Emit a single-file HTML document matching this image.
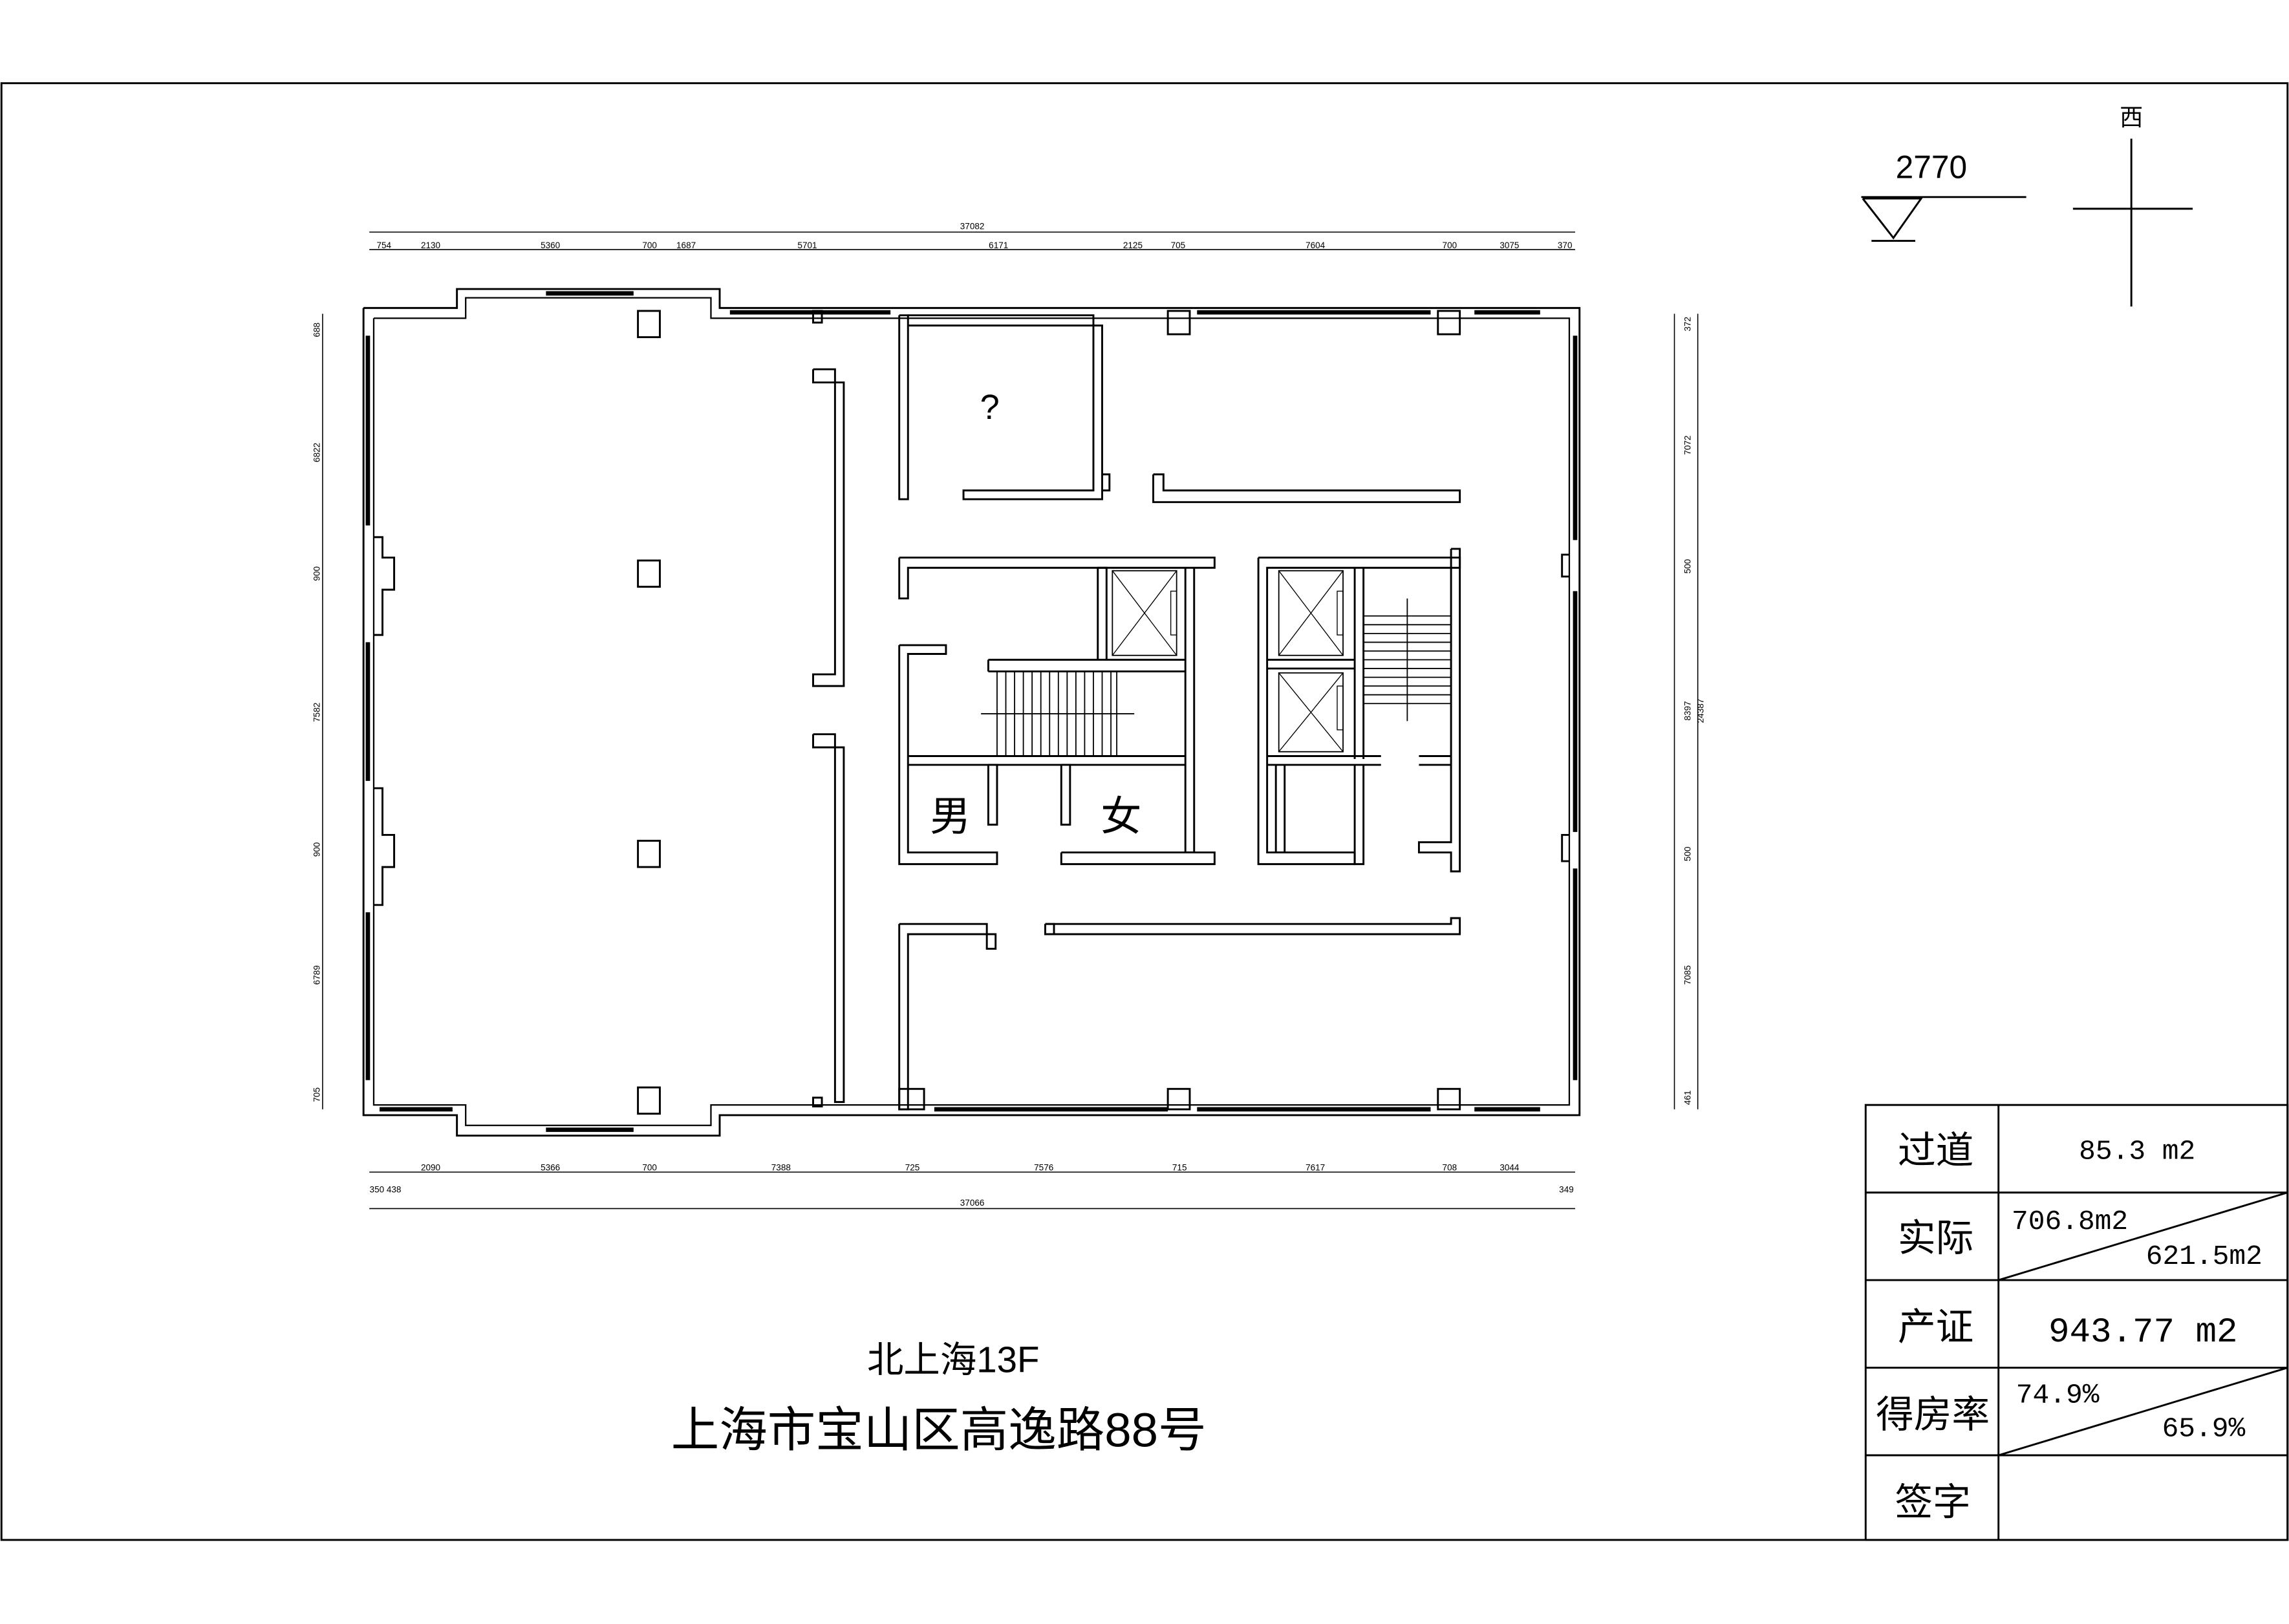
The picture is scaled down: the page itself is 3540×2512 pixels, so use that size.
<!DOCTYPE html>
<html><head><meta charset="utf-8"><style>
html,body{margin:0;padding:0;background:#fff;}
svg{display:block;}
text{font-family:"Liberation Sans","Noto Sans CJK SC",sans-serif;fill:#000;}
text.m{font-family:"Liberation Mono",monospace;}
</style></head><body>
<svg width="3540" height="2512" viewBox="0 0 1568 1112.6" preserveAspectRatio="none" xmlns="http://www.w3.org/2000/svg">
<rect x="0" y="0" width="1568" height="1112.6" fill="#fff"/>
<g fill="none" stroke="#000" stroke-width="1.3">
<rect x="1" y="57" width="1566" height="998"/>
<rect x="1278" y="757" width="289" height="298"/>
<line x1="1369" y1="757" x2="1369" y2="1055"/>
<line x1="1278" y1="817" x2="1567" y2="817"/>
<line x1="1278" y1="877" x2="1567" y2="877"/>
<line x1="1278" y1="937" x2="1567" y2="937"/>
<line x1="1278" y1="997" x2="1567" y2="997"/>
<line x1="1369" y1="877" x2="1567" y2="817"/>
<line x1="1369" y1="997" x2="1567" y2="937"/>
<line x1="1275" y1="135" x2="1388" y2="135"/>
<polyline points="1276,136 1316,136 1297,163 1276,136"/>
<line x1="1282" y1="165" x2="1312" y2="165"/>
<line x1="1460" y1="95" x2="1460" y2="210"/>
<line x1="1420" y1="143" x2="1502" y2="143"/>
<polyline points="249,211 313,211 313,198 493,198 493,211 1082,211 1082,764 493,764 493,778 313,778 313,764 249,764 249,211"/>
<polyline points="256,218 319,218 319,204 487,204 487,218 1075,218 1075,757 487,757 487,771 319,771 319,757 256,757 256,218" stroke-width="1"/>
<g stroke-width="3">
<line x1="374" y1="201" x2="434" y2="201"/><line x1="374" y1="774" x2="434" y2="774"/>
<line x1="500" y1="214" x2="610" y2="214"/><line x1="820" y1="214" x2="980" y2="214"/>
<line x1="1010" y1="214" x2="1055" y2="214"/><line x1="640" y1="760" x2="800" y2="760"/>
<line x1="820" y1="760" x2="980" y2="760"/><line x1="1010" y1="760" x2="1055" y2="760"/>
<line x1="252" y1="230" x2="252" y2="360"/><line x1="252" y1="440" x2="252" y2="535"/>
<line x1="252" y1="625" x2="252" y2="740"/><line x1="1079" y1="230" x2="1079" y2="370"/>
<line x1="1079" y1="405" x2="1079" y2="570"/><line x1="1079" y1="595" x2="1079" y2="740"/>
<line x1="260" y1="760" x2="310" y2="760"/>
</g>
<polyline points="256,368 262,368 262,382 270,382 270,404 262,404 262,435 256,435"/>
<polyline points="256,540 262,540 262,572 270,572 270,594 262,594 262,620 256,620"/>
<polyline points="1075,380 1070,380 1070,395 1075,395"/>
<polyline points="1075,572 1070,572 1070,590 1075,590"/>
<rect x="437" y="213" width="15" height="18"/><rect x="437" y="384" width="15" height="18"/>
<rect x="437" y="576" width="15" height="18"/><rect x="437" y="745" width="15" height="18"/>
<rect x="985" y="213" width="15" height="16"/><rect x="800" y="213" width="15" height="16"/>
<rect x="985" y="746" width="15" height="14"/><rect x="800" y="746" width="15" height="14"/>
<rect x="616" y="746" width="17" height="14"/>
<rect x="557" y="213" width="6" height="8"/><rect x="557" y="752" width="6" height="6"/>
<polyline points="557,253 572,253 572,262 578,262 578,470 572,470 557,470 557,462 572,462 572,262 557,262 557,253"/>
<polyline points="557,503 572,503 572,512 578,512 578,755 572,755 572,512 557,512 557,503"/>
<polyline points="616,216 622,216 622,342 616,342 616,216"/>
<polyline points="622,216 749,216 749,336 660,336 660,342 755,342 755,223 622,223"/>
<polyline points="755,325 760,325 760,336 755,336"/>
<polyline points="790,325 797,325 797,336 1000,336 1000,344 790,344 790,325"/>
<polyline points="616,382 832,382 832,389 622,389 622,410 616,410 616,382"/>
<polyline points="616,442 648,442 648,448 622,448 622,584 683,584 683,592 616,592 616,442"/>
<polyline points="727,584 832,584 832,592 727,592 727,584"/>
<line x1="622" y1="518" x2="812" y2="518"/><line x1="622" y1="524" x2="812" y2="524"/>
<polyline points="677,524 683,524 683,565 677,565 677,524"/>
<polyline points="727,524 733,524 733,565 727,565 727,524"/>
<polyline points="812,389 812,584 818,584 818,389"/>
<polyline points="752,389 758,389 758,452 752,452 752,389"/>
<line x1="677" y1="452" x2="812" y2="452"/><line x1="677" y1="460" x2="812" y2="460"/>
<line x1="677" y1="452" x2="677" y2="460"/>
<rect x="762" y="391" width="44" height="58" stroke-width="0.8"/>
<line x1="762" y1="391" x2="806" y2="449" stroke-width="0.6"/><line x1="806" y1="391" x2="762" y2="449" stroke-width="0.6"/>
<rect x="802" y="405" width="4" height="30" stroke-width="0.6"/>
<g stroke-width="0.8">
<line x1="683" y1="460" x2="683" y2="518"/><line x1="765" y1="460" x2="765" y2="518"/>
<line x1="689" y1="460" x2="689" y2="518"/><line x1="695" y1="460" x2="695" y2="518"/>
<line x1="701" y1="460" x2="701" y2="518"/><line x1="707" y1="460" x2="707" y2="518"/>
<line x1="713" y1="460" x2="713" y2="518"/><line x1="719" y1="460" x2="719" y2="518"/>
<line x1="725" y1="460" x2="725" y2="518"/><line x1="731" y1="460" x2="731" y2="518"/>
<line x1="737" y1="460" x2="737" y2="518"/><line x1="743" y1="460" x2="743" y2="518"/>
<line x1="749" y1="460" x2="749" y2="518"/><line x1="755" y1="460" x2="755" y2="518"/>
<line x1="761" y1="460" x2="761" y2="518"/>
<line x1="672" y1="489" x2="777" y2="489"/>
</g>
<polyline points="862,382 1000,382 1000,389 868,389 868,584 928,584 928,592 862,592 862,382"/>
<polyline points="994,376 1000,376 1000,597 994,597 994,584 972,584 972,577 994,577 994,376"/>
<line x1="928" y1="389" x2="928" y2="520"/><line x1="934" y1="389" x2="934" y2="520"/>
<line x1="868" y1="452" x2="928" y2="452"/><line x1="868" y1="458" x2="928" y2="458"/>
<line x1="868" y1="518" x2="946" y2="518"/><line x1="868" y1="524" x2="946" y2="524"/>
<line x1="972" y1="518" x2="994" y2="518"/><line x1="972" y1="524" x2="994" y2="524"/>
<polyline points="874,524 874,584 880,584 880,524"/>
<polyline points="928,524 928,592 934,592 934,524"/>
<rect x="876" y="391" width="44" height="58" stroke-width="0.8"/>
<line x1="876" y1="391" x2="920" y2="449" stroke-width="0.6"/><line x1="920" y1="391" x2="876" y2="449" stroke-width="0.6"/>
<rect x="916" y="405" width="4" height="30" stroke-width="0.6"/>
<rect x="876" y="461" width="44" height="54" stroke-width="0.8"/>
<line x1="876" y1="461" x2="920" y2="515" stroke-width="0.6"/><line x1="920" y1="461" x2="876" y2="515" stroke-width="0.6"/>
<rect x="916" y="470" width="4" height="30" stroke-width="0.6"/>
<g stroke-width="0.8">
<line x1="934" y1="422" x2="994" y2="422"/><line x1="934" y1="428" x2="994" y2="428"/>
<line x1="934" y1="434" x2="994" y2="434"/><line x1="934" y1="440" x2="994" y2="440"/>
<line x1="934" y1="446" x2="994" y2="446"/><line x1="934" y1="452" x2="994" y2="452"/>
<line x1="934" y1="458" x2="994" y2="458"/><line x1="934" y1="464" x2="994" y2="464"/>
<line x1="934" y1="470" x2="994" y2="470"/><line x1="934" y1="476" x2="994" y2="476"/>
<line x1="934" y1="482" x2="994" y2="482"/><line x1="964" y1="410" x2="964" y2="494"/>
</g>
<polyline points="616,633 676,633 676,650 682,650 682,640 670,640 622,640 622,760 616,760 616,633"/>
<polyline points="716,633 716,640 1000,640 1000,629 994,629 994,633 716,633"/>
<polyline points="716,633 722,633 722,640"/>
<g stroke-width="0.7">
<line x1="253" y1="159" x2="1079" y2="159"/><line x1="253" y1="171" x2="1079" y2="171"/>
<line x1="253" y1="803" x2="1079" y2="803"/><line x1="253" y1="828" x2="1079" y2="828"/>
<line x1="221" y1="215" x2="221" y2="760"/><line x1="1147" y1="215" x2="1147" y2="760"/>
<line x1="1163" y1="215" x2="1163" y2="760"/>
</g>
</g>
<g font-size="6">
<text x="666" y="157" text-anchor="middle">37082</text>
<text x="263" y="170" text-anchor="middle">754</text><text x="295" y="170" text-anchor="middle">2130</text>
<text x="377" y="170" text-anchor="middle">5360</text><text x="445" y="170" text-anchor="middle">700</text>
<text x="470" y="170" text-anchor="middle">1687</text><text x="553" y="170" text-anchor="middle">5701</text>
<text x="684" y="170" text-anchor="middle">6171</text><text x="776" y="170" text-anchor="middle">2125</text>
<text x="807" y="170" text-anchor="middle">705</text><text x="901" y="170" text-anchor="middle">7604</text>
<text x="993" y="170" text-anchor="middle">700</text><text x="1034" y="170" text-anchor="middle">3075</text>
<text x="1072" y="170" text-anchor="middle">370</text>
<text x="295" y="802" text-anchor="middle">2090</text><text x="377" y="802" text-anchor="middle">5366</text>
<text x="445" y="802" text-anchor="middle">700</text><text x="535" y="802" text-anchor="middle">7388</text>
<text x="625" y="802" text-anchor="middle">725</text><text x="715" y="802" text-anchor="middle">7576</text>
<text x="808" y="802" text-anchor="middle">715</text><text x="901" y="802" text-anchor="middle">7617</text>
<text x="993" y="802" text-anchor="middle">708</text><text x="1034" y="802" text-anchor="middle">3044</text>
<text x="264" y="817" text-anchor="middle">350 438</text><text x="1073" y="817" text-anchor="middle">349</text>
<text x="666" y="826" text-anchor="middle">37066</text>
</g>
<g font-size="6">
<text transform="translate(219,226) rotate(-90)" text-anchor="middle">688</text>
<text transform="translate(219,310) rotate(-90)" text-anchor="middle">6822</text>
<text transform="translate(219,393) rotate(-90)" text-anchor="middle">900</text>
<text transform="translate(219,488) rotate(-90)" text-anchor="middle">7582</text>
<text transform="translate(219,582) rotate(-90)" text-anchor="middle">900</text>
<text transform="translate(219,668) rotate(-90)" text-anchor="middle">6789</text>
<text transform="translate(219,750) rotate(-90)" text-anchor="middle">705</text>
<text transform="translate(1158,222) rotate(-90)" text-anchor="middle">372</text>
<text transform="translate(1158,305) rotate(-90)" text-anchor="middle">7072</text>
<text transform="translate(1158,388) rotate(-90)" text-anchor="middle">500</text>
<text transform="translate(1158,487) rotate(-90)" text-anchor="middle">8397</text>
<text transform="translate(1167,487) rotate(-90)" text-anchor="middle">24387</text>
<text transform="translate(1158,585) rotate(-90)" text-anchor="middle">500</text>
<text transform="translate(1158,668) rotate(-90)" text-anchor="middle">7085</text>
<text transform="translate(1158,752) rotate(-90)" text-anchor="middle">461</text>
</g>
<text x="678" y="287" font-size="24" text-anchor="middle">?</text>
<text x="651" y="569" font-size="28" text-anchor="middle">男</text>
<text x="768" y="569" font-size="28" text-anchor="middle">女</text>
<text x="1323" y="122" font-size="22" text-anchor="middle">2770</text>
<text x="1460" y="86" font-size="16" text-anchor="middle">西</text>
<text x="653" y="940" font-size="25" text-anchor="middle">北上海13F</text>
<text x="643" y="991" font-size="33" text-anchor="middle">上海市宝山区高逸路88号</text>
<g font-size="26">
<text x="1326" y="797" text-anchor="middle">过道</text>
<text x="1326" y="857" text-anchor="middle">实际</text>
<text x="1326" y="918" text-anchor="middle">产证</text>
<text x="1324" y="978" text-anchor="middle">得房率</text>
<text x="1324" y="1038" text-anchor="middle">签字</text>
</g>
<text class="m" x="1464" y="794" font-size="19" text-anchor="middle">85.3 m2</text>
<text class="m" x="1378" y="842" font-size="19">706.8m2</text>
<text class="m" x="1470" y="866" font-size="19">621.5m2</text>
<text class="m" x="1468" y="919" font-size="24" text-anchor="middle">943.77 m2</text>
<text class="m" x="1381" y="961" font-size="19">74.9%</text>
<text class="m" x="1481" y="984" font-size="19">65.9%</text>
</svg>
</body></html>
